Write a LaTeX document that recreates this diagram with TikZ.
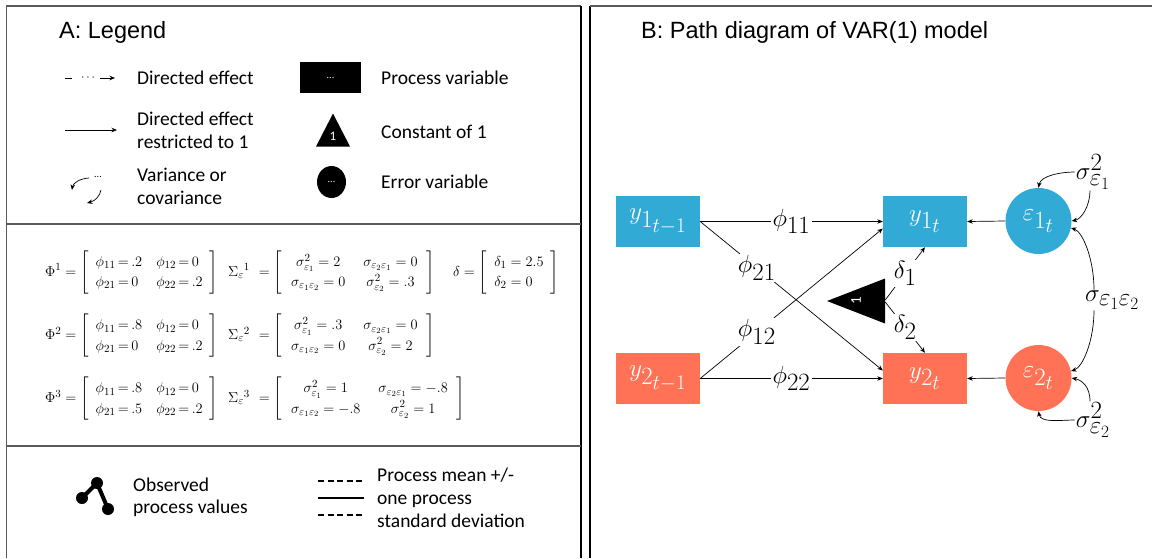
\documentclass[tikz,border=0pt]{standalone}
\usepackage{amsmath}
\usepackage[no-math]{fontspec}
\setmainfont{Carlito}
\newfontfamily\titlefont{Liberation Sans}
\usetikzlibrary{arrows.meta,shapes.geometric}
\DeclareMathSizes{36}{36}{27}{21.6}
\DeclareMathSizes{30}{30}{24}{19}
\definecolor{boxblue}{RGB}{49,171,214}
\definecolor{boxred}{RGB}{255,114,86}
\definecolor{framegray}{RGB}{90,90,90}
% matrices with tight equals signs
\newcommand{\eqs}{\mskip 3mu{=}\mskip 3mu}
\newcommand{\lmat}[1]{\left[\begin{array}{ll}#1\end{array}\right]}
\newcommand{\cmat}[1]{\left[\begin{array}{cc}#1\end{array}\right]}
\newcommand{\onemat}[1]{\left[\begin{array}{l}#1\end{array}\right]}
% error variance label
\newcommand{\varsym}[1]{\sigma^{2}_{\varepsilon_{#1}}}

\tikzset{
  panelline/.style={draw=framegray, line width=1.6pt},
  arr/.style={-{Stealth[length=5.5pt,width=4.5pt]}, line width=0.7pt},
  legtxt/.style={anchor=west, align=left, inner sep=0pt, font=\fontsize{19.5}{23}\selectfont},
  heading/.style={anchor=west, inner sep=0pt, font=\titlefont\fontsize{23.5}{28}\selectfont},
  eqn/.style={anchor=west, inner sep=0pt, font=\fontsize{15.5}{17.5}\selectfont,
    execute at begin node={\renewcommand{\arraystretch}{1.15}\setlength{\arraycolsep}{7pt}}},
  sigeqn/.style={eqn,
    execute at begin node={\renewcommand{\arraystretch}{1.15}\setlength{\arraycolsep}{9pt}}},
  tinydots/.style={inner sep=0pt, font=\fontsize{10}{12}\selectfont},
  procvar/.style={rectangle, minimum width=84pt, minimum height=51pt, inner sep=0pt,
    text=white, font=\fontsize{36}{40}\selectfont},
  errvar/.style={circle, minimum size=66pt, inner sep=0pt, text=white, font=\fontsize{36}{40}\selectfont},
  lab/.style={fill=white, inner sep=1.5pt, font=\fontsize{30}{34}\selectfont},
  varlab/.style={inner sep=1pt, font=\fontsize{30}{34}\selectfont},
  obsdot/.style={circle, fill=black, minimum size=12pt, inner sep=0pt},
}

\begin{document}
\begin{tikzpicture}[x=1pt,y=-1pt]
\useasboundingbox (0,0) rectangle (1152,558);

% panel frames
\draw[panelline] (6.5,558) -- (6.5,6) -- (581,6);
\draw[line width=1.6pt] (581,6) -- (581,558);
\draw[panelline] (6.5,224) -- (581,224);
\draw[panelline] (6.5,446) -- (581,446);
\draw[line width=1.6pt] (590,558) -- (590,6);
\draw[panelline] (590,6) -- (1152,6);

% headings
\node[heading] (headA) at (59,32) {A: Legend};
\node[heading] (headB) at (641,32) {B: Path diagram of VAR(1) model};

% ---- legend symbols
% directed effect
\coordinate (de1) at (65,78);
\coordinate (de2) at (72,78);
\draw[line width=0.7pt] (de1) -- (de2);
\node[inner sep=0pt, font=\fontsize{12}{14}\selectfont] (dedots) at (89,78) {$\cdots$};
\coordinate (de3) at (100,78);
\coordinate (de4) at (115,78);
\draw[arr] (de3) -- (de4);
\node[legtxt] (detxt) at (137,78) {Directed effect};

% fixed effect
\coordinate (fe1) at (65,130);
\coordinate (fe2) at (117,130);
\draw[arr] (fe1) -- (fe2);
\node[legtxt] (fetxt) at (137,130.5) {Directed effect\\restricted to 1};

% (co)variance
\coordinate (va1) at (89,178);
\coordinate (va2) at (72,190);
\draw[arr] (va1) .. controls (80,178.5) and (73,183) .. (va2);
\coordinate (vb1) at (101,190);
\coordinate (vb2) at (87,203);
\draw[arr] (vb1) .. controls (100,196) and (95,201) .. (vb2);
\node[tinydots] (vadots) at (98,177) {...};
\node[legtxt] (vatxt) at (137,186.5) {Variance or\\covariance};

% shapes
\node[fill=black, minimum width=61pt, minimum height=31pt, inner sep=0pt, text=white,
      font=\fontsize{10}{12}\selectfont] (lproc) at (330.5,77.5) {...};
\node[isosceles triangle, isosceles triangle stretches, shape border rotate=90,
      minimum width=34pt, minimum height=33pt, fill=black, inner sep=0pt, anchor=apex] (ltri) at (333,113) {};
\node[text=white, inner sep=0pt, font=\fontsize{13}{15}\selectfont] (lone) at (333,136) {1};
\node[ellipse, fill=black, minimum width=29pt, minimum height=32pt, inner sep=0pt, text=white,
      font=\fontsize{10}{12}\selectfont] (lerr) at (331.5,182) {...};
\node[legtxt] (proctxt) at (381,78) {Process variable};
\node[legtxt] (consttxt) at (381,131.5) {Constant of 1};
\node[legtxt] (errtxt) at (381,182) {Error variable};

% ---- parameter matrices
\node[eqn] (phi1) at (45,272.5) {$\Phi^1 = \lmat{\phi_{11}\eqs .2 & \phi_{12}\eqs 0 \\ \phi_{21}\eqs 0 & \phi_{22}\eqs .2}$};
\node[sigeqn] (sig1) at (228,272.5) {$\Sigma_{\varepsilon}{}^{1}\mskip 6mu = \cmat{\sigma^2_{\varepsilon_1} = 2 & \sigma_{\varepsilon_2\varepsilon_1} = 0 \\ \sigma_{\varepsilon_1\varepsilon_2} = 0 & \sigma^2_{\varepsilon_2} = .3}$};
\node[eqn] (delta) at (453,272.5) {$\delta = \onemat{\delta_1 = 2.5 \\ \delta_2 = 0}$};

\node[eqn] (phi2) at (45,336) {$\Phi^2 = \lmat{\phi_{11}\eqs .8 & \phi_{12}\eqs 0 \\ \phi_{21}\eqs 0 & \phi_{22}\eqs .2}$};
\node[sigeqn] (sig2) at (228,336) {$\Sigma_{\varepsilon}{}^{2}\mskip 6mu = \cmat{\sigma^2_{\varepsilon_1} = .3 & \sigma_{\varepsilon_2\varepsilon_1} = 0 \\ \sigma_{\varepsilon_1\varepsilon_2} = 0 & \sigma^2_{\varepsilon_2} = 2}$};

\node[eqn] (phi3) at (45,399) {$\Phi^3 = \lmat{\phi_{11}\eqs .8 & \phi_{12}\eqs 0 \\ \phi_{21}\eqs .5 & \phi_{22}\eqs .2}$};
\node[sigeqn] (sig3) at (228,399) {$\Sigma_{\varepsilon}{}^{3}\mskip 6mu = \cmat{\sigma^2_{\varepsilon_1} = 1 & \sigma_{\varepsilon_2\varepsilon_1} = -.8 \\ \sigma_{\varepsilon_1\varepsilon_2} = -.8 & \sigma^2_{\varepsilon_2} = 1}$};

% ---- plot legend
\node[obsdot] (ob1) at (82,498) {};
\node[obsdot] (ob2) at (97,483) {};
\node[obsdot] (ob3) at (108,509) {};
\draw[line width=4pt] (ob1.center) -- (ob2.center) -- (ob3.center);
\node[legtxt, font=\fontsize{19.5}{21.5}\selectfont] (obtxt) at (133,497.5) {Observed\\process values};

\coordinate (mu1a) at (318,481);
\coordinate (mu1b) at (364,481);
\coordinate (mu0a) at (318,498);
\coordinate (mu0b) at (364,498);
\coordinate (mu2a) at (318,515);
\coordinate (mu2b) at (364,515);
\draw[line width=1.8pt, dash pattern=on 6pt off 3.5pt] (mu1a) -- (mu1b);
\draw[line width=1.8pt] (mu0a) -- (mu0b);
\draw[line width=1.8pt, dash pattern=on 6pt off 3.5pt] (mu2a) -- (mu2b);
\node[legtxt] (mutxt) at (377,498) {Process mean +/-\\one process\\standard deviation};

% ---- path diagram
\node[procvar, fill=boxblue] (y1p) at (658,221.5) {$y_{1_{t-1}}$};
\node[procvar, fill=boxblue] (y1) at (925,221.5) {$y_{1_t}$};
\node[procvar, fill=boxred] (y2p) at (658,378.5) {$y_{2_{t-1}}$};
\node[procvar, fill=boxred] (y2) at (925,378.5) {$y_{2_t}$};
\node[errvar, fill=boxblue] (e1) at (1038.5,221) {$\varepsilon_{1_t}$};
\node[errvar, fill=boxred] (e2) at (1038.5,378) {$\varepsilon_{2_t}$};
\node[isosceles triangle, isosceles triangle stretches, shape border rotate=180,
      minimum width=45pt, minimum height=58pt, fill=black, inner sep=0pt, anchor=apex] (tri) at (826.5,301) {};
\node[text=white, rotate=90, inner sep=0pt, font=\fontsize{15}{17}\selectfont] (trione) at (856,301) {1};

\draw[arr] (y1p.east) -- node[lab] {$\phi_{11}$} (y1.west);
\draw[arr] (y2p.east) -- node[lab] {$\phi_{22}$} (y2.west);
\draw[arr] (y1p.east) -- node[lab, pos=0.31] {$\phi_{21}$} ([yshift=8pt]y2.west);
\draw[arr] (y2p.east) -- node[lab, pos=0.31] {$\phi_{12}$} ([yshift=-7pt]y1.west);

\draw[arr] ([yshift=1pt]tri.lower side) -- node[lab] {$\delta_1$} (y1.south);
\draw[arr] ([yshift=-1pt]tri.lower side) -- node[lab] {$\delta_2$} (y2.north);

\draw[arr] (e1.west) -- (y1.east);
\draw[arr] (e2.west) -- (y2.east);

\node[varlab] (s1) at (1093,172) {$\varsym{1}$};
\node[varlab, anchor=west] (s12) at (1084,300) {$\sigma_{\varepsilon_1\varepsilon_2}$};
\node[varlab] (s2) at (1093,420) {$\varsym{2}$};

\draw[arr] (s1.west) .. controls +(-14,0) and +(2,-12) .. (e1.north);
\draw[arr] ([xshift=-3pt]s1.south) .. controls +(0,15) and +(10,-2) .. (e1.east);
\draw[arr] ([xshift=10pt]s12.north west) .. controls +(0,-30) and +(12,4) .. (e1.-12);
\draw[arr] ([xshift=10pt]s12.south west) .. controls +(0,30) and +(12,-4) .. (e2.12);
\draw[arr] ([xshift=-3pt]s2.north) .. controls +(0,-15) and +(10,2) .. (e2.east);
\draw[arr] (s2.west) .. controls +(-14,0) and +(2,12) .. (e2.south);
\end{tikzpicture}
\end{document}
